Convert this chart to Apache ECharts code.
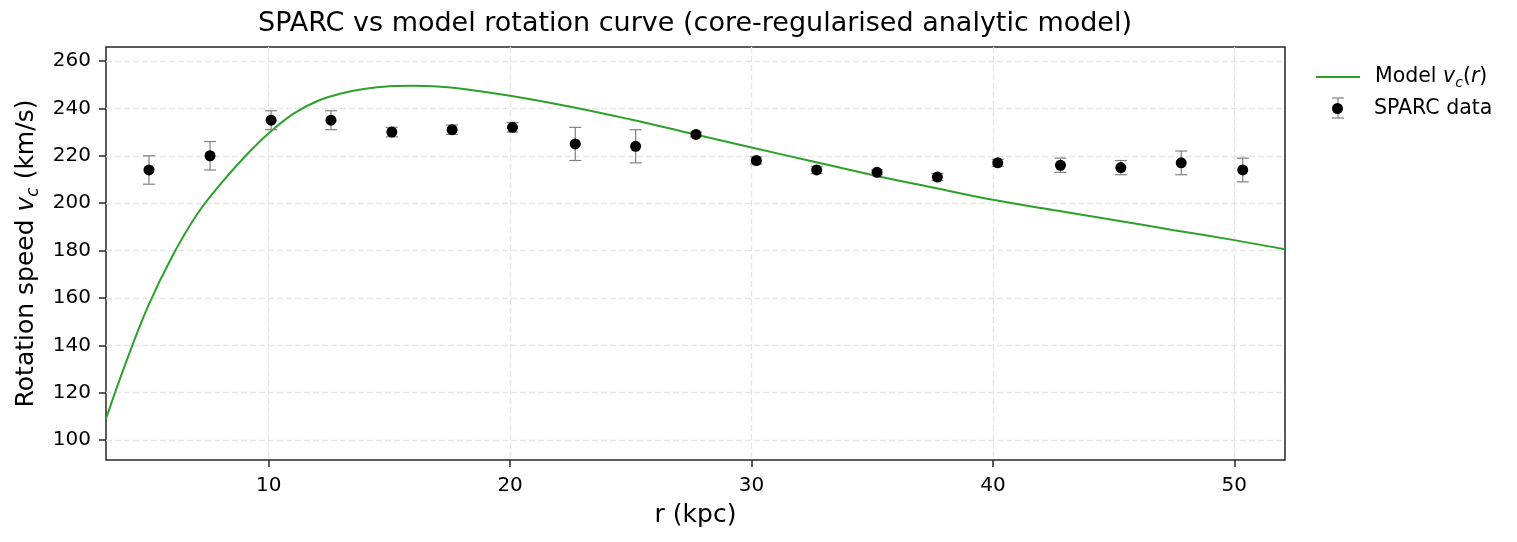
<!DOCTYPE html>
<html>
<head>
<meta charset="utf-8">
<script src="https://cdn.jsdelivr.net/npm/echarts@6/dist/echarts.min.js"></script>
<style>
  html, body { margin: 0; padding: 0; background: #fff; }
  #chart { width: 1517px; height: 542px; }
</style>
</head>
<body>
<div id="chart"></div>
<script>
// SPARC points
var radius = [5.04, 7.57, 10.1, 12.58, 15.1, 17.6, 20.1, 22.7, 25.2, 27.7, 30.2, 32.7, 35.2, 37.7, 40.2, 42.8, 45.3, 47.8, 50.35];
var speed  = [214, 220, 235, 235, 230, 231, 232, 225, 224, 229, 218, 214, 213, 211, 217, 216, 215, 217, 214];
var speedErr = [6, 6, 4, 4, 2, 2, 2, 7, 7, 1, 1.5, 1.5, 1, 1.5, 1.5, 3, 3, 5, 5];

// model curve, read by eye at roughly even steps
var modelR = [3.26, 4, 5, 6, 7, 8, 9, 10, 11, 12, 13, 14, 15, 16, 17, 18, 20, 22.5, 25, 27.5, 30, 32.5, 35, 37.5, 40, 42.5, 45, 47.5, 50, 52.1];
var modelV = [109, 130.4, 156.4, 177.5, 194.8, 208, 219.5, 229.5, 237.6, 243, 246.3, 248.3, 249.3, 249.5, 249.2, 248.3, 245.3, 240.7, 235.3, 229.4, 223.5, 217.7, 211.9, 206.6, 201.4, 197.1, 192.9, 188.6, 184.4, 180.5];

var xTicks = [10, 20, 30, 40, 50];
var yTicks = [100, 120, 140, 160, 180, 200, 220, 240, 260];

var FONT = 'DejaVu Sans';
var INK = '#262626';
var GREEN = '#2ca02c';
var ERR = '#808080';

var chart = echarts.init(document.getElementById('chart'));

var modelData = [];
for (var i = 0; i < modelR.length; i++) modelData.push([modelR[i], modelV[i]]);
var obsData = [];
for (var j = 0; j < radius.length; j++) obsData.push([radius[j], speed[j], speedErr[j]]);

var gridLine = { show: true, lineStyle: { color: '#e6e6e6', width: 1.3, type: [6, 3] } };

var option = {
  animation: false,
  textStyle: { fontFamily: FONT },
  title: {
    text: 'SPARC vs model rotation curve (core-regularised analytic model)',
    left: 695, top: 10, padding: 0, textAlign: 'center',
    textStyle: { fontFamily: FONT, fontSize: 27, fontWeight: 'normal', color: '#000' }
  },
  grid: {
    left: 106, right: 232, top: 47, bottom: 82,
    show: true, borderColor: INK, borderWidth: 1.5,
    containLabel: false, outerBoundsMode: 'none'
  },
  legend: [
    {
      data: [{ name: 'model', icon: 'path://M0,0H44V2H0Z' }],
      orient: 'vertical', left: 1316, top: 64, padding: 0,
      itemWidth: 44, itemHeight: 2,
      formatter: function () { return '{p|}Model {i|v}{s|c}({i|r})'; },
      textStyle: {
        fontFamily: FONT, fontSize: 20.5, color: '#000', lineHeight: 26,
        rich: {
          p: { width: 10 },
          i: { fontStyle: 'italic', fontSize: 20.5, lineHeight: 26 },
          s: { fontStyle: 'italic', fontSize: 14, lineHeight: 14, verticalAlign: 'bottom' }
        }
      }
    },
    {
      data: [{ name: 'sparc', icon: 'circle' }],
      orient: 'vertical', left: 1332, top: 98, padding: 0,
      itemWidth: 11, itemHeight: 11,
      formatter: function () { return '{p|}SPARC data'; },
      textStyle: {
        fontFamily: FONT, fontSize: 20.5, color: '#000',
        rich: { p: { width: 26 } }
      }
    }
  ],
  graphic: [
    {
      type: 'group', z: 0,
      children: [
        { type: 'line', shape: { x1: 1338, y1: 98, x2: 1338, y2: 118 }, style: { stroke: ERR, lineWidth: 1.2 } },
        { type: 'line', shape: { x1: 1332, y1: 98, x2: 1344, y2: 98 }, style: { stroke: ERR, lineWidth: 1.2 } },
        { type: 'line', shape: { x1: 1332, y1: 118, x2: 1344, y2: 118 }, style: { stroke: ERR, lineWidth: 1.2 } }
      ]
    }
  ],
  xAxis: {
    type: 'value', min: 3.26, max: 52.1,
    name: 'r (kpc)', nameLocation: 'middle', nameGap: 43,
    nameTextStyle: { fontFamily: FONT, fontSize: 25, color: '#000' },
    axisLine: { show: false },
    axisTick: { show: true, length: 7, lineStyle: { color: INK, width: 1.5 }, customValues: xTicks },
    axisLabel: { customValues: xTicks, fontSize: 20, color: '#000', margin: 16, fontFamily: FONT },
    splitLine: gridLine
  },
  yAxis: {
    type: 'value', min: 91.6, max: 265.9,
    name: 'Rotation speed {i|v}{s|c} (km/s)', nameLocation: 'middle', nameGap: 62, nameRotate: 90,
    nameTextStyle: {
      fontFamily: FONT, fontSize: 25, color: '#000', lineHeight: 30,
      rich: {
        i: { fontStyle: 'italic', fontSize: 25, lineHeight: 30 },
        s: { fontStyle: 'italic', fontSize: 17, lineHeight: 17, verticalAlign: 'bottom' }
      }
    },
    axisLine: { show: false },
    axisTick: { show: true, length: 7, lineStyle: { color: INK, width: 1.5 }, customValues: yTicks },
    axisLabel: { customValues: yTicks, fontSize: 20, color: '#000', margin: 15, fontFamily: FONT },
    splitLine: gridLine
  },
  series: [
    {
      name: 'model', type: 'line', data: modelData, smooth: 0.4,
      showSymbol: false, symbol: 'none', clip: true, z: 2,
      lineStyle: { color: GREEN, width: 2 }, itemStyle: { color: GREEN }
    },
    {
      name: 'errbar', type: 'custom', data: obsData, z: 3, silent: true,
      renderItem: function (params, api) {
        var x = api.value(0), y = api.value(1), e = api.value(2);
        var top = api.coord([x, y + e]);
        var bot = api.coord([x, y - e]);
        var st = { stroke: ERR, lineWidth: 1.2 };
        return {
          type: 'group',
          children: [
            { type: 'line', shape: { x1: top[0], y1: top[1], x2: bot[0], y2: bot[1] }, style: st },
            { type: 'line', shape: { x1: top[0] - 6, y1: top[1], x2: top[0] + 6, y2: top[1] }, style: st },
            { type: 'line', shape: { x1: bot[0] - 6, y1: bot[1], x2: bot[0] + 6, y2: bot[1] }, style: st }
          ]
        };
      }
    },
    {
      name: 'sparc', type: 'scatter', data: obsData, z: 4,
      symbol: 'circle', symbolSize: 11,
      itemStyle: { color: '#000', opacity: 1 }
    }
  ]
};

chart.setOption(option);
</script>
</body>
</html>
